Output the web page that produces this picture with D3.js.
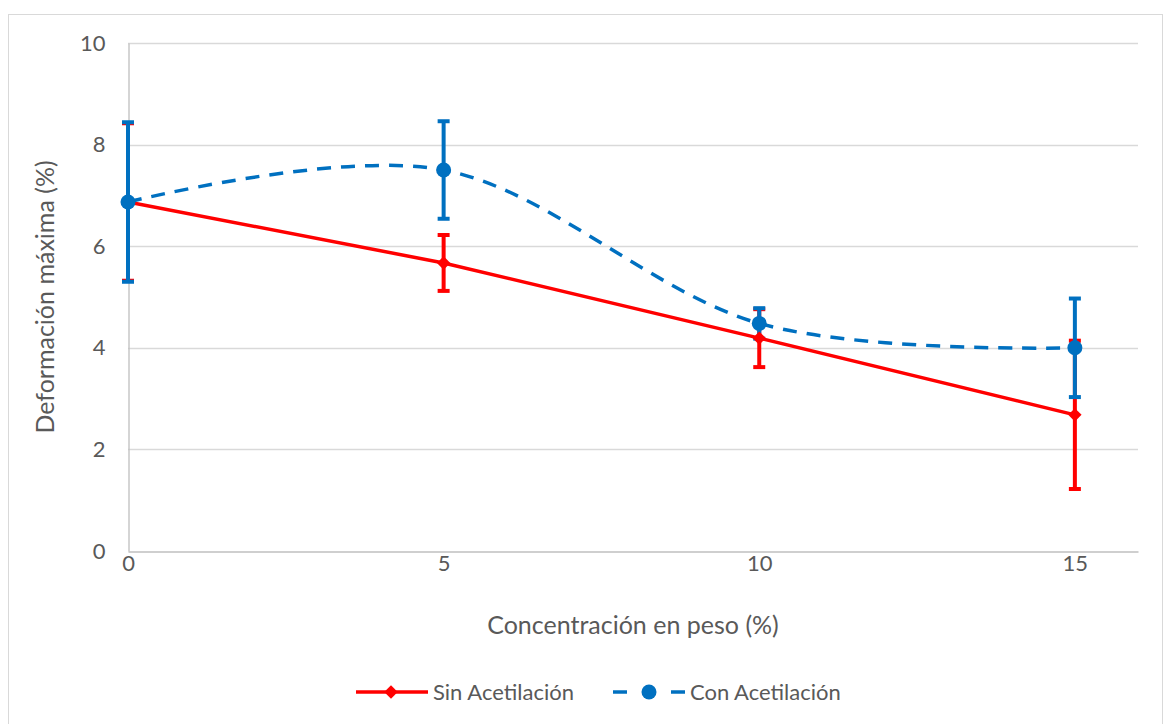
<!DOCTYPE html>
<html>
<head>
<meta charset="utf-8">
<script src="https://cdn.jsdelivr.net/npm/d3@7"></script>
<style>
  html, body { margin: 0; padding: 0; background: #fff; }
  svg { display: block; font-family: Lato, "Open Sans", "Liberation Sans", sans-serif; }
</style>
</head>
<body>
<svg id="chart" width="1169" height="724"></svg>
<script>
// Concentration (wt %) on the x axis
const concentrations = [0, 5, 10, 15];

// Maximum strain (%) without acetylation, with its error half-widths
const sinValues = [6.87, 5.67, 4.19, 2.68];
const sinErrors = [1.55, 0.55, 0.57, 1.46];

// Maximum strain (%) with acetylation, with its error half-widths
const conValues = [6.87, 7.50, 4.48, 4.00];
const conErrors = [1.57, 0.96, 0.30, 0.97];

const xTicks = [0, 5, 10, 15];
const yTicks = [0, 2, 4, 6, 8, 10];

const seriesNames = ["Sin Acetilación", "Con Acetilación"];
const seriesColors = ["#ff0000", "#0070c0"];

const svg = d3.select("#chart");

// Outer chart frame
svg.append("rect")
  .attr("x", 8.5).attr("y", 14.5)
  .attr("width", 1154).attr("height", 730)
  .attr("fill", "#fff").attr("stroke", "#d9d9d9").attr("stroke-width", 1);

const plot = { left: 128, right: 1138, top: 43, bottom: 551 };

const x = d3.scaleLinear().domain([0, 16]).range([plot.left, plot.right]);
const y = d3.scaleLinear().domain([0, 10]).range([plot.bottom, plot.top]);

// Horizontal gridlines
svg.append("g")
  .selectAll("line")
  .data(yTicks.filter(t => t > 0))
  .join("line")
  .attr("x1", plot.left).attr("x2", plot.right)
  .attr("y1", d => Math.round(y(d)) + 0.5).attr("y2", d => Math.round(y(d)) + 0.5)
  .attr("stroke", "#d9d9d9").attr("stroke-width", 1.3);

// Y axis (line only, labels on the left)
const yAxis = d3.axisLeft(y).tickValues(yTicks).tickSize(0).tickPadding(23);
const gy = svg.append("g").attr("transform", `translate(${plot.left + 0.5},0)`).call(yAxis);
gy.attr("font-family", null).attr("font-size", null);
gy.select(".domain").attr("stroke", "#bfbfbf").attr("stroke-width", 1.3);
gy.selectAll("text").attr("fill", "#595959").attr("font-size", 22);

// X axis
const xAxis = d3.axisBottom(x).tickValues(xTicks).tickSize(0).tickPadding(4);
const gx = svg.append("g").attr("transform", `translate(0,${plot.bottom + 0.5})`).call(xAxis);
gx.attr("font-family", null).attr("font-size", null);
gx.select(".domain").attr("stroke", "#bfbfbf").attr("stroke-width", 1.3);
gx.selectAll("text").attr("fill", "#595959").attr("font-size", 22);

// Axis titles
svg.append("text")
  .attr("x", 633).attr("y", 634)
  .attr("text-anchor", "middle")
  .attr("fill", "#595959").attr("font-size", 25)
  .text("Concentración en peso (%)");

svg.append("text")
  .attr("transform", `translate(54,${(plot.top + plot.bottom) / 2}) rotate(-90)`)
  .attr("text-anchor", "middle")
  .attr("fill", "#595959").attr("font-size", 25)
  .text("Deformación máxima (%)");

const sinData = concentrations.map((c, i) => ({ x: c, y: sinValues[i], e: sinErrors[i] }));
const conData = concentrations.map((c, i) => ({ x: c, y: conValues[i], e: conErrors[i] }));

// Error bars with flat caps
function drawErrors(data, color) {
  const g = svg.append("g");
  data.forEach(d => {
    const x0 = x(d.x);
    g.append("line")
      .attr("x1", x0).attr("x2", x0)
      .attr("y1", y(d.y - d.e)).attr("y2", y(d.y + d.e))
      .attr("stroke", color).attr("stroke-width", 4);
    [d.y - d.e, d.y + d.e].forEach(v => {
      g.append("line")
        .attr("x1", x0 - 6).attr("x2", x0 + 6)
        .attr("y1", y(v)).attr("y2", y(v))
        .attr("stroke", color).attr("stroke-width", 4);
    });
  });
}

drawErrors(sinData, seriesColors[0]);
drawErrors(conData, seriesColors[1]);

// Series without acetylation: straight line + diamonds
svg.append("path")
  .datum(sinData)
  .attr("fill", "none")
  .attr("stroke", seriesColors[0]).attr("stroke-width", 3.5)
  .attr("d", d3.line().x(d => x(d.x)).y(d => y(d.y)));

svg.append("g").selectAll("path")
  .data(sinData)
  .join("path")
  .attr("d", d3.symbol().type(d3.symbolSquare).size(90))
  .attr("transform", d => `translate(${x(d.x)},${y(d.y)}) rotate(45)`)
  .attr("fill", seriesColors[0]);

// Series with acetylation: smoothed dashed line + circles
svg.append("path")
  .datum(conData)
  .attr("fill", "none")
  .attr("stroke", seriesColors[1]).attr("stroke-width", 3.5)
  .attr("stroke-dasharray", "14,10")
  .attr("d", d3.line().curve(d3.curveCardinal.tension(0)).x(d => x(d.x)).y(d => y(d.y)));

svg.append("g").selectAll("circle")
  .data(conData)
  .join("circle")
  .attr("cx", d => x(d.x)).attr("cy", d => y(d.y))
  .attr("r", 7.5)
  .attr("fill", seriesColors[1]);

// Legend
const legend = svg.append("g");
const legendItems = [
  { name: seriesNames[0], color: seriesColors[0], x0: 356, dashed: false },
  { name: seriesNames[1], color: seriesColors[1], x0: 613, dashed: true }
];
legendItems.forEach(it => {
  const ly = 692;
  if (it.dashed) {
    legend.append("line").attr("x1", it.x0).attr("x2", it.x0 + 14)
      .attr("y1", ly).attr("y2", ly).attr("stroke", it.color).attr("stroke-width", 3.5);
    legend.append("line").attr("x1", it.x0 + 58).attr("x2", it.x0 + 72)
      .attr("y1", ly).attr("y2", ly).attr("stroke", it.color).attr("stroke-width", 3.5);
    legend.append("circle").attr("cx", it.x0 + 36).attr("cy", ly).attr("r", 7.5).attr("fill", it.color);
  } else {
    legend.append("line").attr("x1", it.x0).attr("x2", it.x0 + 72)
      .attr("y1", ly).attr("y2", ly).attr("stroke", it.color).attr("stroke-width", 3.5);
    legend.append("path")
      .attr("d", d3.symbol().type(d3.symbolSquare).size(90))
      .attr("transform", `translate(${it.x0 + 35},${ly}) rotate(45)`)
      .attr("fill", it.color);
  }
  legend.append("text")
    .attr("x", it.x0 + 77).attr("y", ly)
    .attr("dy", "0.35em")
    .attr("fill", "#595959").attr("font-size", 22)
    .text(it.name);
});
</script>
</body>
</html>
